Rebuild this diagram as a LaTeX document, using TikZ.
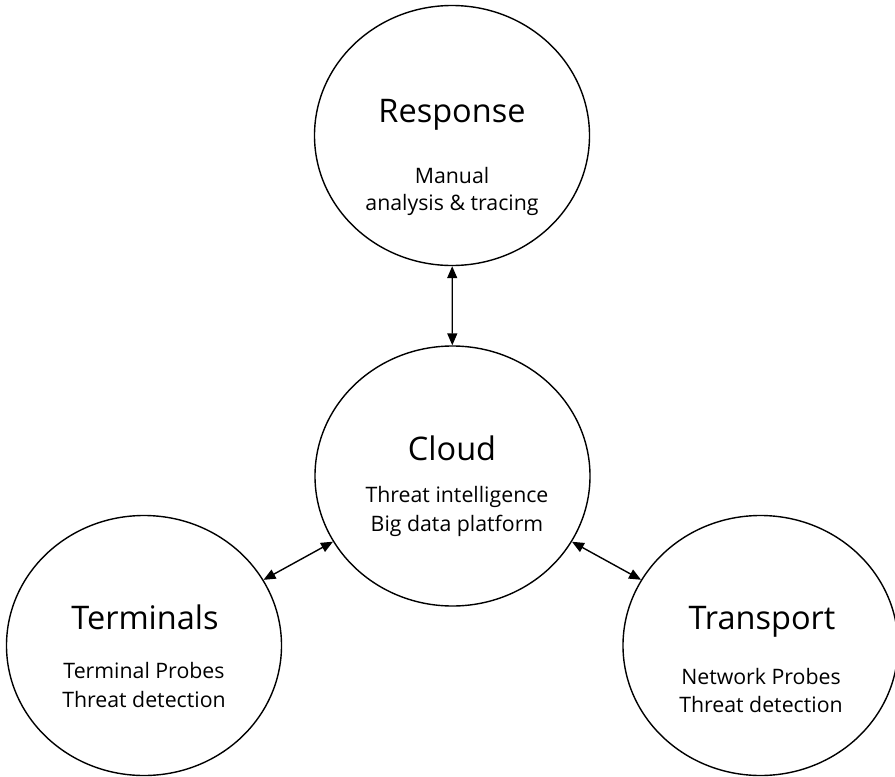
\documentclass[tikz,border=0pt]{standalone}
\usepackage{fontspec}
\setmainfont{Open Sans}
\usetikzlibrary{shapes.geometric,arrows.meta}
\begin{document}
\begin{tikzpicture}[x=1pt,y=-1pt,
  bubble/.style={ellipse,draw,line width=1.4pt,inner sep=0pt,
    minimum width=275pt,minimum height=260pt},
  title/.style={anchor=base,inner sep=0pt,font=\fontsize{32.5}{38}\selectfont},
  sub/.style={anchor=base,inner sep=0pt,font=\fontsize{21.3}{25}\selectfont},
  link/.style={line width=1.4pt,{Triangle[length=12pt,width=10pt]}-{Triangle[length=12pt,width=10pt]}}]
  \useasboundingbox (0,0) rectangle (895,777);

  % four stages of the loop
  \node[bubble] (resp) at (452,135.5) {};
  \node[bubble] (cloud) at (452.5,476) {};
  \node[bubble] (term) at (144,645.5) {};
  \node[bubble] (trans) at (760.5,645.5) {};

  % labels
  \node[title] (respT) at (452,122) {Response};
  \node[sub] (respA) at (452,183) {Manual};
  \node[sub] (respB) at (452,210) {analysis \& tracing};

  \node[title] (cloudT) at (452,460) {Cloud};
  \node[sub] (cloudA) at (457,502) {Threat intelligence};
  \node[sub] (cloudB) at (457,531) {Big data platform};

  \node[title] (termT) at (145,629) {Terminals};
  \node[sub] (termA) at (144,678) {Terminal Probes};
  \node[sub] (termB) at (144,707) {Threat detection};

  \node[title] (transT) at (762,629) {Transport};
  \node[sub] (transA) at (761,684) {Network Probes};
  \node[sub] (transB) at (761,712) {Threat detection};

  % two-way links to the cloud
  \draw[link] (resp) -- (cloud);
  \draw[link] (cloud) -- (term);
  \draw[link] (cloud) -- (trans);
\end{tikzpicture}
\end{document}
